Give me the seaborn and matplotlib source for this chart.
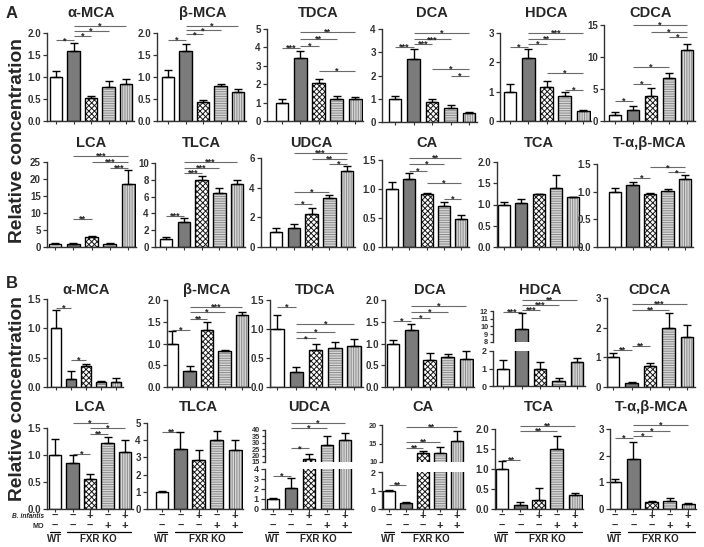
import numpy as np
import pandas as pd
import matplotlib
matplotlib.use("Agg")
import matplotlib.pyplot as plt
import matplotlib.transforms as mtransforms
from matplotlib.patches import Rectangle
import seaborn as sns

# ---------------- data ----------------
groups = ["WT", "FXR KO", "FXR KO + B. infantis", "FXR KO + MO", "FXR KO + B. infantis + MO"]
b_infantis_signs = ["–", "–", "+", "–", "+"]
mo_signs = ["–", "–", "–", "+", "+"]

# Panel A (means, SEM)
a_amca = [1.00, 1.58, 0.52, 0.77, 0.85];  a_amca_sem = [0.14, 0.20, 0.04, 0.15, 0.10]
a_bmca = [1.00, 1.59, 0.43, 0.80, 0.65];  a_bmca_sem = [0.15, 0.17, 0.04, 0.04, 0.07]
a_tdca = [1.00, 3.40, 2.07, 1.20, 1.20];  a_tdca_sem = [0.22, 0.40, 0.22, 0.18, 0.08]
a_dca = [1.00, 2.73, 0.88, 0.62, 0.37];   a_dca_sem = [0.10, 0.40, 0.12, 0.10, 0.05]
a_hdca = [1.00, 2.15, 1.17, 0.85, 0.33];  a_hdca_sem = [0.27, 0.30, 0.18, 0.14, 0.03]
a_cdca = [1.0, 1.7, 3.9, 6.7, 11.1];      a_cdca_sem = [0.4, 0.6, 1.3, 0.8, 1.0]
a_lca = [1.0, 0.9, 2.9, 1.0, 18.6];       a_lca_sem = [0.15, 0.2, 0.4, 0.3, 4.1]
a_tlca = [1.0, 3.0, 8.0, 6.4, 7.5];       a_tlca_sem = [0.15, 0.5, 0.5, 0.6, 0.5]
a_udca = [1.0, 1.3, 2.2, 3.3, 5.1];       a_udca_sem = [0.3, 0.25, 0.45, 0.2, 0.35]
a_ca = [1.00, 1.18, 0.91, 0.71, 0.48];    a_ca_sem = [0.12, 0.10, 0.02, 0.07, 0.07]
a_tca = [1.00, 1.04, 1.24, 1.39, 1.18];   a_tca_sem = [0.07, 0.09, 0.01, 0.30, 0.0]
a_tabmca = [1.00, 1.12, 0.96, 1.01, 1.22]; a_tabmca_sem = [0.06, 0.05, 0.02, 0.04, 0.08]

# Panel B (means, SEM)
b_amca = [1.00, 0.14, 0.35, 0.09, 0.08];  b_amca_sem = [0.32, 0.14, 0.05, 0.02, 0.08]
b_bmca = [1.00, 0.36, 1.32, 0.82, 1.66];  b_bmca_sem = [0.28, 0.12, 0.17, 0.02, 0.06]
b_tdca = [1.00, 0.26, 0.64, 0.68, 0.70];  b_tdca_sem = [0.25, 0.09, 0.11, 0.09, 0.13]
b_dca = [1.00, 1.31, 0.63, 0.68, 0.64];   b_dca_sem = [0.09, 0.14, 0.16, 0.07, 0.18]
b_hdca = [1.00, 9.70, 1.00, 0.30, 1.35];  b_hdca_sem = [0.50, 2.00, 0.35, 0.17, 0.25]
b_cdca = [1.00, 0.15, 0.72, 2.00, 1.70];  b_cdca_sem = [0.15, 0.02, 0.10, 0.50, 0.40]
b_lca = [1.00, 0.85, 0.55, 1.23, 1.05];   b_lca_sem = [0.30, 0.15, 0.10, 0.10, 0.22]
b_tlca = [1.00, 3.50, 2.85, 4.00, 3.45];  b_tlca_sem = [0.05, 0.95, 0.60, 0.55, 0.55]
b_udca = [1.00, 2.15, 17.0, 28.5, 32.0];  b_udca_sem = [0.12, 1.00, 4.5, 6.5, 5.5]
b_ca = [1.00, 0.35, 12.3, 12.5, 15.8];    b_ca_sem = [0.05, 0.05, 0.8, 1.5, 2.7]
b_tca = [1.00, 0.10, 0.22, 1.50, 0.35];   b_tca_sem = [0.20, 0.07, 0.30, 0.33, 0.04]
b_tabmca = [1.00, 1.88, 0.27, 0.30, 0.18]; b_tabmca_sem = [0.13, 0.65, 0.04, 0.10, 0.05]

# significance brackets: (bar i, bar j, level, label)
a_amca_sig = [(0, 1, 1.83, "*"), (1, 2, 1.93, "*"), (1, 3, 2.04, "*"), (1, 4, 2.16, "*")]
a_bmca_sig = [(0, 1, 1.84, "*"), (1, 2, 1.97, "*"), (1, 3, 2.06, "*"), (1, 4, 2.17, "*")]
a_tdca_sig = [(0, 1, 3.97, "***"), (1, 2, 4.08, "*"), (1, 3, 4.46, "**"), (1, 4, 4.84, "**"), (2, 4, 2.72, "*")]
a_dca_sig = [(0, 1, 3.23, "***"), (1, 2, 3.35, "***"), (1, 3, 3.55, "***"), (1, 4, 3.83, "*"), (2, 4, 2.28, "*"), (3, 4, 1.98, "*")]
a_hdca_sig = [(0, 1, 2.53, "*"), (1, 2, 2.63, "*"), (1, 3, 2.80, "**"), (1, 4, 3.00, "***"), (2, 4, 1.64, "*"), (3, 4, 1.06, "*")]
a_cdca_sig = [(0, 1, 3.1, "*"), (1, 2, 5.8, "*"), (1, 3, 8.4, "*"), (3, 4, 13.1, "*"), (2, 4, 13.9, "*"), (1, 4, 15.0, "*")]
a_lca_sig = [(1, 2, 8.2, "**"), (3, 4, 23.2, "***"), (2, 4, 25.0, "***"), (1, 4, 26.8, "***")]
a_tlca_sig = [(0, 1, 3.7, "***"), (1, 2, 8.8, "***"), (1, 3, 9.4, "***"), (1, 4, 10.1, "***")]
a_udca_sig = [(1, 2, 2.9, "*"), (1, 3, 3.7, "*"), (3, 4, 5.6, "*"), (2, 4, 5.95, "**"), (1, 4, 6.35, "***")]
a_ca_sig = [(1, 2, 1.31, "*"), (1, 3, 1.43, "*"), (1, 4, 1.53, "**"), (2, 4, 1.10, "*"), (3, 4, 0.83, "*")]
a_tca_sig = []
a_tabmca_sig = [(1, 2, 1.25, "*"), (3, 4, 1.35, "*"), (2, 4, 1.44, "*")]

b_amca_sig = [(0, 1, 1.35, "*"), (1, 2, 0.46, "*")]
b_bmca_sig = [(0, 1, 1.31, "*"), (1, 2, 1.56, "**"), (1, 3, 1.72, "*"), (1, 4, 1.84, "***")]
b_tdca_sig = [(0, 1, 1.38, "*"), (1, 2, 0.84, "*"), (1, 3, 0.95, "*"), (1, 4, 1.09, "*")]
b_dca_sig = [(0, 1, 1.52, "*"), (1, 2, 1.59, "*"), (1, 3, 1.72, "*"), (1, 4, 1.86, "*")]
b_hdca_sig = [(0, 1, 11.87, "***"), (1, 2, 12.13, "***"), (1, 3, 12.77, "***"), (1, 4, 13.4, "**")]
b_cdca_sig = [(0, 1, 1.25, "**"), (1, 2, 1.38, "**"), (1, 3, 2.6, "**"), (1, 4, 2.8, "***")]
b_lca_sig = [(1, 2, 1.02, "*"), (2, 3, 1.39, "**"), (2, 4, 1.50, "*"), (1, 3, 1.59, "*")]
b_tlca_sig = [(0, 1, 4.48, "**")]
b_udca_sig = [(0, 1, 3.3, "*"), (1, 2, 25.6, "*"), (1, 3, 41.5, "*"), (1, 4, 45.3, "*")]
b_ca_sig = [(0, 1, 1.3, "**"), (1, 2, 13.8, "**"), (1, 3, 15.4, "**"), (1, 4, 19.5, "**")]
b_tca_sig = [(0, 1, 1.22, "**"), (1, 3, 1.95, "**"), (1, 4, 2.08, "**")]
b_tabmca_sig = [(0, 1, 2.66, "*"), (1, 2, 2.73, "*"), (1, 3, 2.92, "*"), (1, 4, 3.15, "*")]

# ---------------- style ----------------
sns.set_style("ticks")
plt.rcParams["font.family"] = ["Liberation Sans", "DejaVu Sans"]
plt.rcParams["font.weight"] = "bold"
plt.rcParams["hatch.linewidth"] = 0.7

W, H = 704, 547
fig = plt.figure(figsize=(W / 100, H / 100), dpi=100)

face = ["#ffffff", "#7b7b7b", "#ffffff", "#d6d6d6", "#d6d6d6"]
hatches = [None, None, "xxxxxx", "-------", "|||||||"]
hatch_col = [None, None, "#1a1a1a", "#8c8c8c", "#8c8c8c"]
AX_COL = "#333333"
XR = 4.45


def add_ax(L, c0, s, ybot, ytop):
    width = (c0 - L) + XR * s
    ax = fig.add_axes([L / W, 1 - ybot / H, width / W, (ybot - ytop) / H])
    ax.set_facecolor("none")
    return ax, -(c0 - L) / s


def draw_bars(ax, means, sems):
    df = pd.DataFrame({"group": groups, "value": means})
    sns.barplot(data=df, x="group", y="value", hue="group", order=groups,
                hue_order=groups, palette=face, width=0.7, ax=ax, legend=False,
                errorbar=None, edgecolor="black", linewidth=1.0, saturation=1)
    bars = sorted([p for p in ax.patches if isinstance(p, Rectangle)], key=lambda p: p.get_x())
    for k, p in enumerate(bars):
        if hatches[k]:
            p.set_hatch(hatches[k])
            p.set_edgecolor(hatch_col[k])
            p.set_linewidth(0.0)
            ax.add_patch(Rectangle(p.get_xy(), p.get_width(), p.get_height(), fill=False,
                                   ec="black", lw=1.0, zorder=p.get_zorder() + 0.1))
    ax.errorbar(np.arange(5), means, yerr=[np.zeros(5), sems], fmt="none", ecolor="black",
                elinewidth=1.0, capsize=3, capthick=1.0, zorder=3)


def style_ax(ax, xlo, lo, hi, step, fmt, bottom=True, lsize=7):
    ax.set_xlim(xlo, XR)
    ax.set_ylim(lo, hi)
    ticks = np.arange(lo, hi + step / 2, step)
    ax.set_yticks(ticks)
    ax.set_yticklabels([fmt.format(t) for t in ticks])
    ax.set_xlabel("")
    ax.set_ylabel("")
    ax.spines["top"].set_visible(False)
    ax.spines["right"].set_visible(False)
    for sp in ["left", "bottom"]:
        ax.spines[sp].set_linewidth(1.0)
        ax.spines[sp].set_color(AX_COL)
    ax.tick_params(axis="y", length=3, width=0.9, pad=1.5, labelsize=lsize,
                   labelcolor=AX_COL, color=AX_COL)
    if bottom:
        ax.set_xticks(range(5))
        ax.set_xticklabels([])
        ax.tick_params(axis="x", length=2, width=0.8, color=AX_COL)
    else:
        ax.spines["bottom"].set_visible(False)
        ax.set_xticks([])


def brackets(ax, sig):
    trans = mtransforms.offset_copy(ax.transData, fig=fig, y=-2.0, units="points")
    for i, j, y, lab in sig:
        ax.plot([i, j], [y, y], color="#6a6a6a", lw=0.8, clip_on=False, solid_capstyle="butt")
        ax.text((i + j) / 2, y, lab, ha="center", va="baseline", fontsize=6.5,
                transform=trans, clip_on=False, color="#222222")


def title(text, c0, s, y):
    fig.text((c0 + 2 * s) / W, 1 - y / H, text, ha="center", va="center", fontsize=10.5,
             fontweight="bold")


def simple_panel(name, means, sems, sig, lay, ty):
    L, c0, s, ybot, ytop, top, step, fmt = lay
    ax, xlo = add_ax(L, c0, s, ybot, ytop)
    draw_bars(ax, means, sems)
    style_ax(ax, xlo, 0, top, step, fmt)
    brackets(ax, sig)
    title(name, c0, s, ty)
    return ax


def broken_panel(name, means, sems, sig, lay, ty):
    L, c0, s, (lb, lt, lhi, lstep), (ub, ut, ulo, uhi, ustep) = lay
    axl, xlo = add_ax(L, c0, s, lb, lt)
    axu, _ = add_ax(L, c0, s, ub, ut)
    for ax in (axl, axu):
        draw_bars(ax, means, sems)
    style_ax(axl, xlo, 0, lhi, lstep, "{:.0f}", lsize=6.5)
    style_ax(axu, xlo, ulo, uhi, ustep, "{:.0f}", bottom=False, lsize=5.3)
    axu.tick_params(axis="y", pad=1.0, length=2.5)
    brackets(axl, [b for b in sig if b[2] <= lhi])
    brackets(axu, [b for b in sig if b[2] > lhi])
    title(name, c0, s, ty)
    return axl


# ---------------- layout (pixels) ----------------
f1, f0 = "{:.1f}", "{:.0f}"
rowA1 = [
    ("α-MCA", a_amca, a_amca_sem, a_amca_sig, (47, 56, 17.5, 121, 33, 2.0, 0.5, f1)),
    ("β-MCA", a_bmca, a_bmca_sem, a_bmca_sig, (157, 168, 17.5, 121, 33, 2.0, 0.5, f1)),
    ("TDCA", a_tdca, a_tdca_sem, a_tdca_sig, (267, 282, 18.3, 121, 29, 5, 1, f0)),
    ("DCA", a_dca, a_dca_sem, a_dca_sig, (382, 395, 18.5, 122, 29, 4, 1, f0)),
    ("HDCA", a_hdca, a_hdca_sem, a_hdca_sig, (500, 510, 18.3, 121, 33, 3, 1, f0)),
    ("CDCA", a_cdca, a_cdca_sem, a_cdca_sig, (604, 615, 18.0, 121, 25, 15, 5, f0)),
]
rowA2 = [
    ("LCA", a_lca, a_lca_sem, a_lca_sig, (47, 55, 18.3, 247, 162, 25, 5, f0)),
    ("TLCA", a_tlca, a_tlca_sem, a_tlca_sig, (155, 166, 17.8, 247, 163, 10, 2, f0)),
    ("UDCA", a_udca, a_udca_sem, a_udca_sig, (261, 276, 17.8, 247, 158, 6, 2, f0)),
    ("CA", a_ca, a_ca_sem, a_ca_sig, (382, 392, 17.3, 247, 160, 1.5, 0.5, f1)),
    ("TCA", a_tca, a_tca_sem, a_tca_sig, (497, 504, 17.3, 247, 162, 2.0, 0.5, f1)),
    ("T-α,β-MCA", a_tabmca, a_tabmca_sem, a_tabmca_sig, (597, 615, 17.5, 247, 164, 1.5, 0.5, f1)),
]
rowB1 = [
    ("α-MCA", b_amca, b_amca_sem, b_amca_sig, (47, 56, 15.0, 387, 299, 1.5, 0.5, f1)),
    ("β-MCA", b_bmca, b_bmca_sem, b_bmca_sig, (167, 172, 17.5, 387, 300, 2.0, 0.5, f1)),
    ("TDCA", b_tdca, b_tdca_sem, b_tdca_sig, (270, 277, 19.3, 387, 300, 1.5, 0.5, f1)),
    ("DCA", b_dca, b_dca_sem, b_dca_sig, (385, 393, 18.3, 387, 300, 2.0, 0.5, f1)),
    ("HDCA", b_hdca, b_hdca_sem, b_hdca_sig, (493, 503, 18.5, (386, 351, 2, 1), (342, 311, 8, 12, 1))),
    ("CDCA", b_cdca, b_cdca_sem, b_cdca_sig, (607, 613, 18.5, 387, 298, 3, 1, f0)),
]
rowB2 = [
    ("LCA", b_lca, b_lca_sem, b_lca_sig, (47, 55, 17.5, 509, 428, 1.5, 0.5, f1)),
    ("TLCA", b_tlca, b_tlca_sem, b_tlca_sig, (147, 162, 18.3, 509, 423, 5, 1, f0)),
    ("UDCA", b_udca, b_udca_sem, b_udca_sig, (265, 273, 18.0, (509, 469, 4, 1), (462, 430, 15, 40, 5))),
    ("CA", b_ca, b_ca_sem, b_ca_sig, (382, 389, 17.0, (509, 472, 2, 1), (462, 425, 10, 20, 5))),
    ("TCA", b_tca, b_tca_sem, b_tca_sig, (495, 502, 18.3, 509, 429, 2.0, 0.5, f1)),
    ("T-α,β-MCA", b_tabmca, b_tabmca_sem, b_tabmca_sig, (610, 615, 18.3, 509, 429, 3, 1, f0)),
]

for row, ty in [(rowA1, 13), (rowA2, 143), (rowB1, 290)]:
    for name, m, e, sig, lay in row:
        if isinstance(lay[3], tuple):
            broken_panel(name, m, e, sig, lay, ty)
        else:
            simple_panel(name, m, e, sig, lay, ty)

for k, (name, m, e, sig, lay) in enumerate(rowB2):
    if isinstance(lay[3], tuple):
        ax = broken_panel(name, m, e, sig, lay, 407)
    else:
        ax = simple_panel(name, m, e, sig, lay, 407)
    tr = mtransforms.blended_transform_factory(ax.transData, fig.transFigure)
    for i in range(5):
        ax.text(i, 1 - 516 / H, b_infantis_signs[i], ha="center", va="center", fontsize=8,
                transform=tr, clip_on=False)
        ax.text(i, 1 - 526 / H, mo_signs[i], ha="center", va="center", fontsize=8,
                transform=tr, clip_on=False)
    ax.plot([-0.3, 0.3], [1 - 532 / H] * 2, color="black", lw=0.9, transform=tr, clip_on=False)
    ax.plot([0.7, 4.35], [1 - 532 / H] * 2, color="black", lw=0.9, transform=tr, clip_on=False)
    ax.text(0, 1 - 539 / H, "WT", ha="center", va="center", fontsize=7, transform=tr, clip_on=False)
    ax.text(2.5, 1 - 539 / H, "FXR KO", ha="center", va="center", fontsize=7, transform=tr,
            clip_on=False)
    if k == 0:
        fig.text(44 / W, 1 - 517 / H, "B. infantis", ha="right", va="center", fontsize=4.8,
                 style="italic", fontweight="bold")
        fig.text(44 / W, 1 - 527 / H, "MO", ha="right", va="center", fontsize=5.2,
                 fontweight="bold")

fig.text(18 / W, 1 - 141 / H, "Relative concentration", rotation=90, ha="center", va="center",
         fontsize=13.8, fontweight="bold")
fig.text(18 / W, 1 - 399 / H, "Relative concentration", rotation=90, ha="center", va="center",
         fontsize=13.8, fontweight="bold")
fig.text(12 / W, 1 - 14 / H, "A", ha="center", va="center", fontsize=12, fontweight="bold")
fig.text(12 / W, 1 - 283 / H, "B", ha="center", va="center", fontsize=12, fontweight="bold")

fig.savefig("out.png", dpi=100)
